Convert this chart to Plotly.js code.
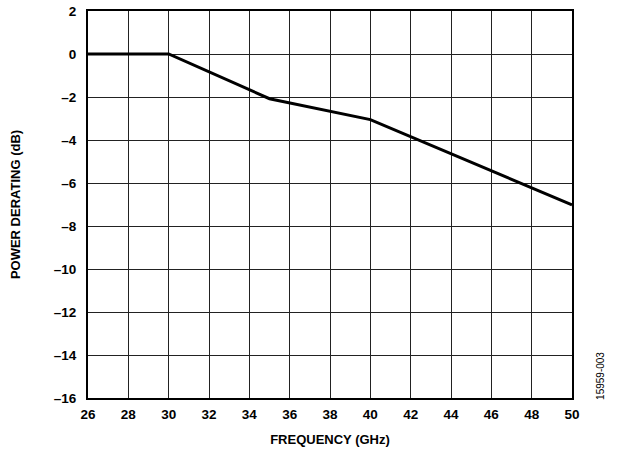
<!DOCTYPE html>
<html>
<head>
<meta charset="utf-8">
<script src="https://cdn.plot.ly/plotly-3.0.1.min.js"></script>
<style>html,body{margin:0;padding:0;background:#fff;}#chart{width:617px;height:449px;}</style>
</head>
<body>
<div id="chart"></div>
<script>
var freq = [26, 30, 35, 40, 50];
var derating = [0, 0, -2.08, -3.05, -7.02];
var xTicks = [26, 28, 30, 32, 34, 36, 38, 40, 42, 44, 46, 48, 50];
var yTicks = [2, 0, -2, -4, -6, -8, -10, -12, -14, -16];
var yTickText = yTicks.map(function(v){ return '<b>' + (v < 0 ? '\u2013' + Math.abs(v) : String(v)) + '</b>'; });
var xTickText = xTicks.map(function(v){ return '<b>' + v + '</b>'; });

var fam = 'Liberation Sans, Arial, sans-serif';
var trace = {x: freq, y: derating, mode: 'lines', line: {color: '#000', width: 3}, hoverinfo: 'none'};
var layout = {
  width: 617, height: 449,
  margin: {l: 88, r: 45, t: 11, b: 51},
  paper_bgcolor: '#fff', plot_bgcolor: '#fff',
  showlegend: false,
  font: {family: fam, size: 13, color: '#000'},
  xaxis: {
    range: [26, 50], tickvals: xTicks, ticktext: xTickText,
    showgrid: true, gridcolor: '#222', gridwidth: 1,
    showline: true, linecolor: '#000', linewidth: 2, mirror: true,
    zeroline: false, ticks: '', ticklen: 0, ticklabelstandoff: 3,
    tickfont: {family: fam, size: 13.5, color: '#000'},
    title: {text: '<b>FREQUENCY (GHz)</b>', font: {family: fam, size: 13, color: '#000'}, standoff: 14}
  },
  yaxis: {
    range: [-16, 2], tickvals: yTicks, ticktext: yTickText,
    showgrid: true, gridcolor: '#222', gridwidth: 1,
    showline: true, linecolor: '#000', linewidth: 2, mirror: true,
    zeroline: false, ticks: '', ticklen: 0, ticklabelstandoff: 7,
    tickfont: {family: fam, size: 13.5, color: '#000'},
    title: {text: '<b>POWER DERATING (dB)</b>', font: {family: fam, size: 13, color: '#000'}, standoff: 30}
  },
  annotations: [{
    text: '15959-003', xref: 'paper', yref: 'paper', x: 1.06, y: -0.01,
    xanchor: 'center', yanchor: 'bottom', textangle: -90, showarrow: false,
    font: {family: fam, size: 10, color: '#000'}
  }]
};
Plotly.newPlot('chart', [trace], layout, {staticPlot: true, displayModeBar: false});
</script>
</body>
</html>
